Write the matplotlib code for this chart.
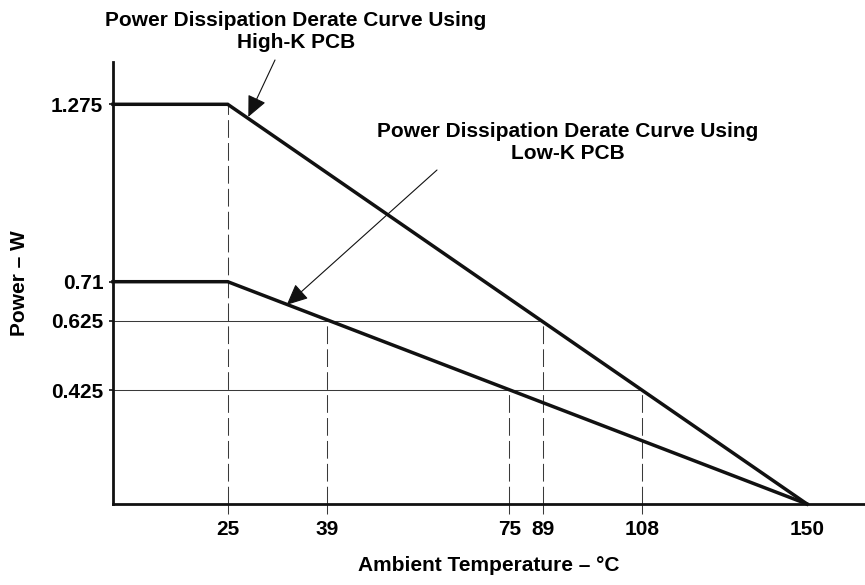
import matplotlib
matplotlib.use('Agg')
import matplotlib.pyplot as plt
import numpy as np

# chart values
temp_ticks = [25, 39, 75, 89, 108, 150]
power_ticks = [0.425, 0.625, 0.71, 1.275]

high_k_temp = [0, 25, 150]
high_k_power = [1.275, 1.275, 0]
low_k_temp = [0, 25, 150]
low_k_power = [0.71, 0.71, 0]

# derating points
ref_temp = [25, 39, 75, 89, 108]
ref_power = [1.275, 0.625, 0.425, 0.625, 0.425]

high_k_label = 'Power Dissipation Derate Curve Using\nHigh-K PCB'
low_k_label = 'Power Dissipation Derate Curve Using\nLow-K PCB'

plt.rcParams['font.family'] = ['Liberation Sans', 'DejaVu Sans']
plt.rcParams['font.weight'] = 'bold'
plt.rcParams['font.size'] = 15


def piecewise_scale(knots, pos):
    # the drawing is schematic: ticks are not evenly spaced, so map values
    # to axis positions piecewise-linearly
    k = np.asarray(knots, float)
    p = np.asarray(pos, float)
    lo = (p[1] - p[0]) / (k[1] - k[0])
    hi = (p[-1] - p[-2]) / (k[-1] - k[-2])
    k2 = np.r_[k[0] - 1e3, k, k[-1] + 1e3]
    p2 = np.r_[p[0] - 1e3 * lo, p, p[-1] + 1e3 * hi]
    return (lambda v: np.interp(v, k2, p2)), (lambda v: np.interp(v, p2, k2))


x_max = 165
y_max = 1.41
x_knots = [0] + temp_ticks + [x_max]
x_pos = [0, 114.7, 214.3, 396.3, 430, 529.3, 694, 752]
y_knots = [0] + sorted(power_ticks) + [y_max]
y_pos = [0, 114, 183, 222.3, 399.7, 442.3]

fig = plt.figure(figsize=(8.65, 5.85), dpi=100)
ax = fig.add_axes([113 / 865, 81 / 585, 752 / 865, 442.3 / 585])
ax.set_xscale('function', functions=piecewise_scale(x_knots, x_pos))
ax.set_yscale('function', functions=piecewise_scale(y_knots, y_pos))
ax.set_xlim(0, x_max)
ax.set_ylim(0, y_max)

ink = '#111111'
thin = '#3a3a3a'

# dashed drops to the temperature axis
ax.vlines(ref_temp, 0, ref_power, colors=thin, linewidth=0.75,
          linestyles=[(0, (17, 5))])
# horizontal levels out to the furthest crossing
levels = sorted(set(ref_power[1:]))
level_end = [max(t for t, p in zip(ref_temp, ref_power) if p == lv) for lv in levels]
ax.hlines(levels, 0, level_end, colors=thin, linewidth=0.75)

ax.plot(high_k_temp, high_k_power, color=ink, linewidth=2.5, clip_on=False,
        solid_joinstyle='miter')
ax.plot(low_k_temp, low_k_power, color=ink, linewidth=2.5, clip_on=False,
        solid_joinstyle='miter')

for s in ['top', 'right']:
    ax.spines[s].set_visible(False)
for s in ['left', 'bottom']:
    ax.spines[s].set_linewidth(2.0)
    ax.spines[s].set_color(ink)

ax.set_xticks(temp_ticks)
ax.set_xticklabels([str(t) for t in temp_ticks])
ax.set_yticks(power_ticks)
ax.set_yticklabels([str(p) for p in power_ticks])
ax.tick_params(axis='x', direction='out', length=7.5, width=0.75, pad=4,
               color=thin, labelsize=15)
ax.tick_params(axis='y', direction='out', length=3, width=1.2, pad=4,
               color=ink, labelsize=15)
ax.xaxis.get_major_ticks()[-1].tick1line.set_visible(False)
for lab in ax.get_xticklabels() + ax.get_yticklabels():
    lab.set_fontweight('bold')

ax.set_xlabel('Ambient Temperature – °C', fontweight='bold', labelpad=12)
ax.set_ylabel('Power – W', fontweight='bold', labelpad=16)

fig.text(296 / 865, 1 - 31.5 / 585, high_k_label, ha='center', va='center',
         multialignment='center', linespacing=1.25, fontweight='bold')
fig.text(568 / 865, 1 - 142.5 / 585, low_k_label, ha='center', va='center',
         multialignment='center', linespacing=1.15, fontweight='bold')

arrow = dict(arrowstyle='-|>,head_length=0.65,head_width=0.3', mutation_scale=20,
             color=ink, linewidth=0.8, shrinkA=0, shrinkB=0)
ax.annotate('', xy=(27.9, 1.235), xycoords='data',
            xytext=(275 / 865, 1 - 60 / 585), textcoords='figure fraction',
            arrowprops=arrow, annotation_clip=False)
ax.annotate('', xy=(33.3, 0.66), xycoords='data',
            xytext=(437 / 865, 1 - 170 / 585), textcoords='figure fraction',
            arrowprops=arrow, annotation_clip=False)

fig.savefig('out.png', dpi=100)
